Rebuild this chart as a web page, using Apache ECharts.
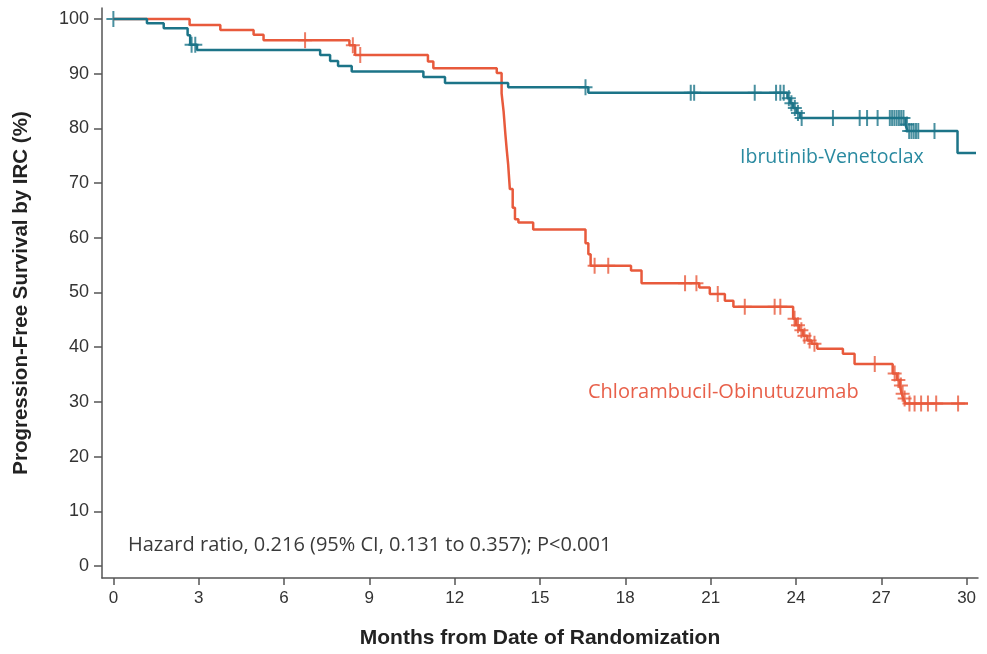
<!DOCTYPE html>
<html>
<head>
<meta charset="utf-8">
<script src="https://cdn.jsdelivr.net/npm/echarts@6/dist/echarts.min.js"></script>
<style>
  html, body { margin: 0; padding: 0; background: #fff; }
  #chart { width: 987px; height: 654px; }
</style>
</head>
<body>
<div id="chart"></div>
<script>
// tick labels
const xTicks = [0, 3, 6, 9, 12, 15, 18, 21, 24, 27, 30]
const yTicks = [0, 10, 20, 30, 40, 50, 60, 70, 80, 90, 100]

// Ibrutinib-Venetoclax: step times (months) and survival (%)
const ivTime = [0, 1.18, 1.77, 2.61, 2.7, 2.94, 7.27, 7.62, 7.9, 8.38, 10.9, 11.66, 13.88, 16.7,
  23.7, 23.8, 23.9, 24.02, 24.15, 27.85, 27.92, 29.68, 30.33]
const ivSurv = [100, 99.2, 98.3, 97.0, 95.3, 94.3, 93.4, 92.3, 91.4, 90.4, 89.4, 88.3, 87.5, 86.5,
  85.5, 84.6, 83.7, 82.8, 81.9, 80.7, 79.5, 75.5, 75.5]
const ivCensor = [0, 2.75, 2.88, 16.6, 20.3, 20.42, 22.55, 23.3, 23.45, 23.57, 23.75, 23.84, 23.96,
  24.07, 24.2, 25.3, 26.24, 26.5, 26.87, 27.3, 27.38, 27.46, 27.54, 27.62, 27.7, 27.78, 27.9,
  27.98, 28.06, 28.14, 28.22, 28.3, 28.87]

// Chlorambucil-Obinutuzumab
const coTime = [0, 2.68, 3.76, 4.93, 5.28, 8.3, 8.5, 11.06, 11.25, 13.48, 13.65, 13.72, 13.78,
  13.83, 13.88, 13.94, 14.04, 14.12, 14.24, 14.76, 16.6, 16.7, 16.78, 18.2, 18.57, 20.6, 20.97,
  21.5, 21.8, 23.9, 24.0, 24.12, 24.25, 24.4, 24.55, 24.75, 25.65, 26.06, 27.4, 27.55, 27.65,
  27.72, 27.78, 27.85, 30.05]
const coSurv = [100, 98.9, 98.0, 97.1, 96.1, 95.2, 93.4, 92.2, 91.0, 90.1, 86.4, 83.1, 79.1,
  76.1, 73.4, 68.9, 65.5, 63.4, 62.8, 61.5, 59.0, 57.0, 54.9, 54.0, 51.7, 50.9, 49.7,
  48.5, 47.4, 45.2, 44.0, 43.1, 42.1, 41.2, 40.6, 39.7, 38.8, 36.9, 35.2, 34.0, 33.0,
  31.5, 30.6, 29.7, 29.7]
const coCensor = [6.74, 8.42, 8.68, 16.92, 17.4, 20.1, 20.5, 21.25, 22.2, 23.25, 23.45, 23.95,
  24.07, 24.19, 24.3, 24.48, 24.65, 26.77, 27.47, 27.6, 27.69, 27.75, 27.82, 27.99, 28.17,
  28.4, 28.64, 28.93, 29.7]

const tealCol = '#1c7488'
const redCol = '#e85a3c'
const plus = 'path://M6,0H8V7H14V9H8V16H6V9H0V7H6Z'

// survival value of a step curve at time c
function stepAt(times, surv, c) {
  let v = surv[0]
  for (let i = 0; i < times.length; i++) {
    if (times[i] <= c) v = surv[i]
  }
  return v
}

function pairs(times, surv) {
  return times.map((t, i) => [t, surv[i]])
}

function censorMarks(times, surv, cens) {
  return cens.map(c => [c, stepAt(times, surv, c)])
}

const chart = echarts.init(document.getElementById('chart'))

const option = {
  animation: false,
  grid: { left: 102, right: 9, top: 8, bottom: 74 },
  xAxis: {
    type: 'value',
    min: -0.4,
    max: 30.4,
    name: 'Months from Date of Randomization',
    nameLocation: 'middle',
    nameGap: 50,
    nameTextStyle: { fontFamily: 'Liberation Sans', fontWeight: 'bold', fontSize: 21, color: '#222' },
    axisLine: { onZero: false, lineStyle: { color: '#555', width: 1.5 } },
    axisTick: { customValues: xTicks, length: 7, lineStyle: { color: '#555', width: 1.5 } },
    axisLabel: { customValues: xTicks, margin: 12, fontFamily: 'Liberation Sans', fontSize: 17, color: '#333' },
    splitLine: { show: false }
  },
  yAxis: {
    type: 'value',
    min: -2.2,
    max: 102,
    name: 'Progression-Free Survival by IRC (%)',
    nameLocation: 'middle',
    nameGap: 70,
    nameTextStyle: { fontFamily: 'Liberation Sans', fontWeight: 'bold', fontSize: 20.5, color: '#222' },
    axisLine: { show: true, onZero: false, lineStyle: { color: '#555', width: 1.5 } },
    axisTick: { show: true, customValues: yTicks, length: 8, lineStyle: { color: '#555', width: 1.5 } },
    axisLabel: { customValues: yTicks, margin: 13, fontFamily: 'Liberation Sans', fontSize: 18, color: '#333' },
    splitLine: { show: false }
  },
  graphic: [
    {
      type: 'text', left: 740, top: 147,
      style: { text: 'Ibrutinib-Venetoclax', fill: '#2a8aa0', font: '19.5px "Open Sans"' }
    },
    {
      type: 'text', left: 588, top: 382,
      style: { text: 'Chlorambucil-Obinutuzumab', fill: '#e8604a', font: '20px "Open Sans"' }
    },
    {
      type: 'text', left: 128, top: 535,
      style: { text: 'Hazard ratio, 0.216 (95% CI, 0.131 to 0.357); P<0.001', fill: '#3a3a3a', font: '20px "Open Sans"' }
    }
  ],
  series: [
    {
      name: 'Chlorambucil-Obinutuzumab',
      type: 'line',
      step: 'end',
      showSymbol: false,
      lineStyle: { color: redCol, width: 2.5 },
      data: pairs(coTime, coSurv)
    },
    {
      name: 'Ibrutinib-Venetoclax',
      type: 'line',
      step: 'end',
      showSymbol: false,
      lineStyle: { color: tealCol, width: 2.5 },
      data: pairs(ivTime, ivSurv)
    },
    {
      type: 'scatter',
      symbol: plus,
      symbolSize: [14, 16],
      itemStyle: { color: redCol },
      data: censorMarks(coTime, coSurv, coCensor)
    },
    {
      type: 'scatter',
      symbol: plus,
      symbolSize: [14, 16],
      itemStyle: { color: tealCol },
      data: censorMarks(ivTime, ivSurv, ivCensor)
    }
  ]
}

chart.setOption(option)
</script>
</body>
</html>
